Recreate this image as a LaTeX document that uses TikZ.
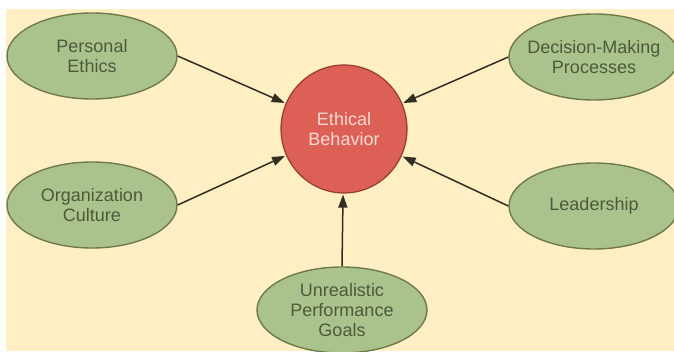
\documentclass[tikz,border=0pt]{standalone}
\usepackage{fontspec}
\setmainfont{Liberation Sans}
\usetikzlibrary{arrows.meta,shapes.geometric}
\definecolor{bg}{RGB}{255,239,194}
\definecolor{oval}{RGB}{170,195,140}
\definecolor{ovalline}{RGB}{112,122,72}
\definecolor{ovaltext}{RGB}{72,92,58}
\definecolor{core}{RGB}{220,96,86}
\definecolor{coreline}{RGB}{150,60,50}
\definecolor{coretext}{RGB}{252,218,208}
\definecolor{arrowc}{RGB}{50,45,35}
\tikzset{
  factor/.style={ellipse, draw=ovalline, fill=oval, line width=1.4pt, inner sep=0pt,
    minimum width=170pt, minimum height=86pt},
  factortext/.style={text=ovaltext, align=center, font=\fontsize{18}{20}\selectfont},
  corenode/.style={ellipse, draw=coreline, fill=core, line width=1.2pt, inner sep=0pt,
    minimum width=126pt, minimum height=128pt},
  coretextst/.style={text=coretext, align=center, font=\fontsize{18}{20}\selectfont},
  arr/.style={draw=arrowc, line width=1.5pt, -{Triangle[length=13pt,width=9pt]}, shorten >=1pt}
}
\begin{document}
\begin{tikzpicture}[x=1pt,y=-1pt]
\useasboundingbox (0,0) rectangle (674,352);
\fill[white] (0,0) rectangle (674,352);
\fill[bg] (6,9) rectangle (674,351);

\node[corenode] (eb) at (344,129) {};
\node[coretextst] (ebt) at (344,129) {Ethical\\Behavior};

\node[factor] (pe) at (92,56) {};
\node[factortext] (pet) at (92,56) {Personal\\Ethics};

\node[factor] (dm) at (594,57) {};
\node[factortext] (dmt) at (594,57) {Decision-Making\\Processes};

\node[factor] (oc) at (92,205) {};
\node[factortext] (oct) at (92,205) {Organization\\Culture};

\node[factor] (ld) at (594,206) {};
\node[factortext] (ldt) at (594,206) {Leadership};

\node[factor] (pg) at (342,310) {};
\node[factortext] (pgt) at (342,310) {Unrealistic\\Performance\\Goals};

\draw[arr] (pe.east) -- (eb);
\draw[arr] (dm.west) -- (eb);
\draw[arr] (oc.east) -- (eb);
\draw[arr] (ld.west) -- (eb);
\draw[arr] (pg.north) -- (eb);
\end{tikzpicture}
\end{document}
